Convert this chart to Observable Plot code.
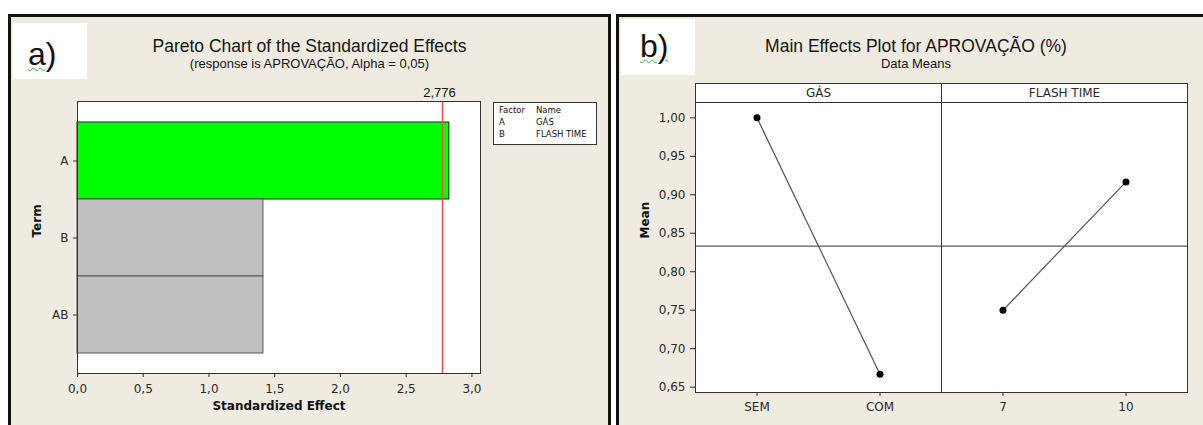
<!DOCTYPE html>
<html>
<head>
<meta charset="utf-8">
<script src="https://cdn.jsdelivr.net/npm/d3@7"></script>
<script src="https://cdn.jsdelivr.net/npm/@observablehq/plot@0.6"></script>
<style>
  body { margin: 0; background: #fff; }
  #wrap { position: relative; width: 1203px; height: 425px; overflow: hidden; background: #fff; }
  .panel { position: absolute; box-sizing: border-box; border: 3px solid #111; background: #efebe1; }
  .tag { position: absolute; background: #fff; }
  .tag span { position: absolute; font-family: "Liberation Sans", Arial, sans-serif; font-size: 32px; line-height: 32px; color: #111; }
  .tag u { text-decoration: underline wavy #3fae3f; text-decoration-thickness: 1px; text-underline-offset: 2px; }
  .chart { position: absolute; top: 0; }
  #overlay { position: absolute; left: 0; top: 0; pointer-events: none; }
</style>
</head>
<body>
<div id="wrap">
  <div class="panel" style="left:8px;top:14px;width:603px;height:440px;"></div>
  <div class="panel" style="left:616px;top:14px;width:620px;height:440px;"></div>
  <div class="tag" style="left:13px;top:23px;width:74px;height:56px;"><span style="left:15px;top:15px;"><u>a</u>)</span></div>
  <div class="tag" style="left:621px;top:19px;width:74px;height:56px;"><span style="left:19px;top:11px;"><u>b)</u></span></div>
  <div id="left" class="chart" style="left:0px;"></div>
  <div id="right" class="chart" style="left:616px;"></div>
</div>
<script>
// ---- Data: Pareto chart of standardized effects ----
const terms = ["A", "B", "AB"];
const effects = [2.828, 1.414, 1.414];
const critical = 2.776;
const paretoTicks = [0, 0.5, 1.0, 1.5, 2.0, 2.5, 3.0];

// ---- Legend (factor table) ----
const factorCodes = ["A", "B"];
const factorNames = ["GÁS", "FLASH TIME"];

// ---- Data: main effects ----
const gasLevels = ["SEM", "COM"];
const gasMeans = [1.0, 0.6667];
const flashLevels = ["7", "10"];
const flashMeans = [0.75, 0.9167];
const grandMean = 0.8333;
const meanTicks = [0.65, 0.70, 0.75, 0.80, 0.85, 0.90, 0.95, 1.00];

// ---- Texts ----
const leftTitle = "Pareto Chart of the Standardized Effects";
const leftSubtitle = "(response is APROVAÇÃO, Alpha = 0,05)";
const rightTitle = "Main Effects Plot for APROVAÇÃO (%)";
const rightSubtitle = "Data Means";

const fmtComma = p => d => d3.format(`.${p}f`)(d).replace(".", ",");

// ---------- Left: Pareto ----------
const pareto = terms.map((t, i) => ({term: t, effect: effects[i]}));
const leftPlot = Plot.plot({
  width: 611, height: 425,
  marginLeft: 77, marginRight: 131, marginTop: 101, marginBottom: 52,
  style: {background: "transparent", fontFamily: "DejaVu Sans, sans-serif", fontSize: "12px", color: "#2a2a2a", overflow: "visible"},
  x: {domain: [0, 3.065], ticks: paretoTicks, tickFormat: fmtComma(1), tickSize: 4, tickPadding: 7, label: null},
  y: {domain: terms, paddingInner: 0, paddingOuter: 0.25, tickSize: 4, tickPadding: 5, label: null},
  color: {type: "identity"},
  marks: [
    Plot.frame({fill: "white"}),
    Plot.barX(pareto, {
      x: "effect", y: "term",
      fill: d => d.effect > critical ? "#00ff00" : "#c0c0c0",
      stroke: d => d.effect > critical ? "#222" : "#555"
    }),
    Plot.ruleX([critical], {stroke: "#ff4d4d", strokeWidth: 1.5}),
    Plot.text([critical], {x: d => d, text: fmtComma(3), frameAnchor: "top", lineAnchor: "middle", dy: -9, dx: -3,
      fontFamily: "Liberation Sans, Arial, sans-serif", fontSize: 13, fill: "#111"}),
    Plot.frame({stroke: "#333"}),
    Plot.text(["Standardized Effect"], {text: d => d, frameAnchor: "bottom", lineAnchor: "middle", dy: 33, fontWeight: "bold", fill: "#111"}),
    Plot.text(["Term"], {text: d => d, frameAnchor: "left", lineAnchor: "middle", dx: -40, rotate: -90, fontWeight: "bold", fill: "#111"})
  ]
});
document.getElementById("left").appendChild(leftPlot);

// ---------- Right: Main effects ----------
const factorData = [
  {name: factorNames[0], levels: gasLevels, means: gasMeans},
  {name: factorNames[1], levels: flashLevels, means: flashMeans}
];
const pts = [];
const groups = [];
let idx = 0;
factorData.forEach(f => {
  const start = idx;
  f.levels.forEach((l, j) => { pts.push({factor: f.name, level: l, pos: idx, mean: f.means[j]}); idx++; });
  groups.push({name: f.name, mid: (start + idx - 1) / 2, end: idx - 0.5});
});
const allLevels = pts.map(d => d.level);
const dividers = groups.slice(0, -1).map(g => g.end);
const yDomain = [0.6431, 1.0199];

const rightPlot = Plot.plot({
  width: 587, height: 425,
  marginLeft: 79, marginRight: 16, marginTop: 102, marginBottom: 33,
  style: {background: "transparent", fontFamily: "DejaVu Sans, sans-serif", fontSize: "12px", color: "#2a2a2a", overflow: "visible"},
  x: {domain: [-0.5, idx - 0.5], ticks: pts.map(d => d.pos), tickFormat: i => allLevels[i], tickSize: 4, tickPadding: 6, label: null},
  y: {domain: yDomain, ticks: meanTicks, tickFormat: fmtComma(2), tickSize: 5, tickPadding: 5, label: null},
  marks: [
    Plot.frame({fill: "white", insetTop: -19}),
    Plot.ruleY([grandMean], {stroke: "#333"}),
    Plot.line(pts, {x: "pos", y: "mean", z: "factor", stroke: "#555", strokeWidth: 1.2}),
    Plot.dot(pts, {x: "pos", y: "mean", r: 3.5, fill: "#000", stroke: "none"}),
    Plot.ruleX(dividers, {stroke: "#333", insetTop: -19}),
    Plot.ruleY([yDomain[1]], {stroke: "#333"}),
    Plot.frame({stroke: "#333", insetTop: -19}),
    Plot.text(groups, {x: "mid", text: "name", frameAnchor: "top", lineAnchor: "middle", dy: -9.5, fill: "#2a2a2a"}),
    Plot.text(["Mean"], {text: d => d, frameAnchor: "left", lineAnchor: "middle", dx: -50, dy: -9, rotate: -90, fontWeight: "bold", fill: "#111"})
  ]
});
document.getElementById("right").appendChild(rightPlot);

// ---------- Overlay: titles and factor legend ----------
const svg = d3.select("#wrap").append("svg").attr("id", "overlay")
  .attr("width", 1203).attr("height", 425)
  .style("font-family", "Liberation Sans, Arial, sans-serif");
const titles = [
  {t: leftTitle, x: 309.5, y: 52, s: 17.5},
  {t: leftSubtitle, x: 309.5, y: 68, s: 13},
  {t: rightTitle, x: 916, y: 52, s: 17.5},
  {t: rightSubtitle, x: 916, y: 68, s: 13}
];
svg.selectAll("text.title").data(titles).join("text").attr("class", "title")
  .attr("x", d => d.x).attr("y", d => d.y).attr("text-anchor", "middle")
  .attr("font-size", d => d.s).attr("fill", "#151515").text(d => d.t);

const lg = svg.append("g").attr("font-family", "DejaVu Sans, sans-serif").attr("font-size", 8.5).attr("fill", "#111");
lg.append("rect").attr("x", 493.5).attr("y", 102.5).attr("width", 103).attr("height", 42)
  .attr("fill", "white").attr("stroke", "#333");
const rows = [["Factor", "Name"]].concat(factorCodes.map((c, i) => [c, factorNames[i]]));
rows.forEach((r, i) => {
  lg.append("text").attr("x", 499).attr("y", 113 + i * 12).text(r[0]);
  lg.append("text").attr("x", 536).attr("y", 113 + i * 12).text(r[1]);
});
</script>
</body>
</html>
